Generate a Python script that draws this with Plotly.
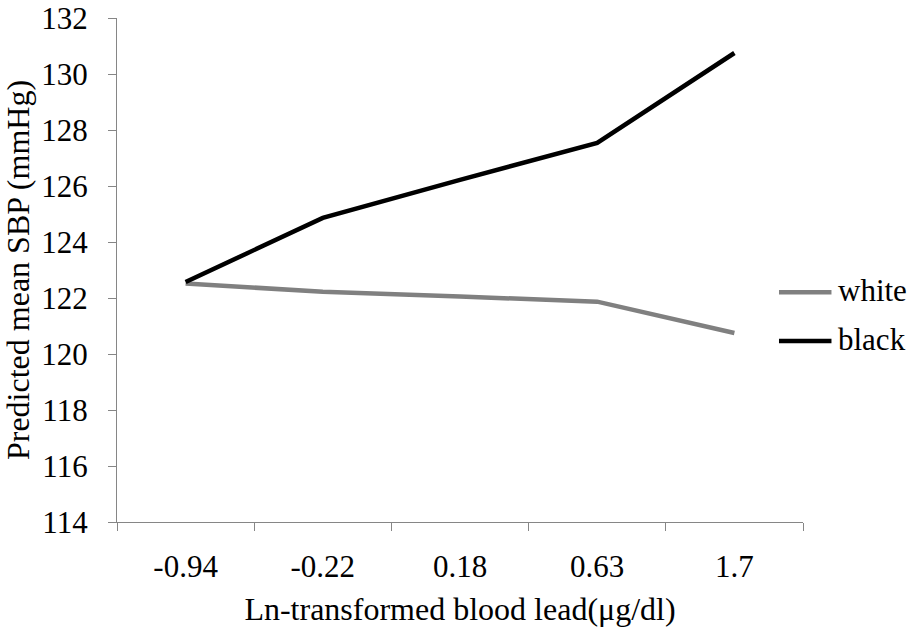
import plotly.graph_objects as go

# Ln-transformed blood lead categories and predicted mean SBP by race
lead_levels = ["-0.94", "-0.22", "0.18", "0.63", "1.7"]
sbp_white = [122.52, 122.22, 122.05, 121.87, 120.75]
sbp_black = [122.57, 124.86, 126.22, 127.54, 130.75]
series_names = ["white", "black"]
series_colors = ["#808080", "#000000"]

FONT = "'Liberation Serif', 'Times New Roman', serif"
AXIS_GREY = "#868686"


def serif(size=31):
    return dict(family=FONT, size=size, color="black")


fig = go.Figure()
for name, values, color in zip(series_names, [sbp_white, sbp_black], series_colors):
    fig.add_trace(go.Scatter(x=lead_levels, y=values, mode="lines", name=name,
                             showlegend=False,
                             line=dict(color=color, width=4.5)))

# legend keys: long sample line followed by the series name, right of the data
legend_y = [0.456, 0.359]
for name, color, ly in zip(series_names, series_colors, legend_y):
    fig.add_shape(type="line", xref="paper", yref="paper",
                  x0=0.9650, x1=1.0415, y0=ly, y1=ly,
                  line=dict(color=color, width=4.5))
    fig.add_annotation(text=name, xref="paper", yref="paper", x=1.048, y=ly,
                       xanchor="left", yanchor="middle", showarrow=False,
                       font=serif(31), yshift=2)

fig.update_layout(
    width=912, height=634,
    margin=dict(l=117, r=109, t=18, b=112, autoexpand=False),
    paper_bgcolor="white", plot_bgcolor="white",
    font=serif(),
    showlegend=False,
    xaxis=dict(
        type="category", range=[-0.5, len(lead_levels) - 0.5],
        tickson="boundaries", ticks="outside", ticklen=8,
        tickcolor=AXIS_GREY, tickwidth=1.3, showline=True, linecolor=AXIS_GREY,
        linewidth=1.3, showgrid=False, zeroline=False,
        tickfont=serif(31), ticklabelstandoff=17,
        title=dict(text="Ln-transformed blood lead(μg/dl)", font=serif(32), standoff=14),
    ),
    yaxis=dict(
        range=[114, 132], tickvals=list(range(114, 133, 2)), ticks="outside",
        ticklen=8, tickcolor=AXIS_GREY, tickwidth=1.3, showline=True,
        linecolor=AXIS_GREY, linewidth=1.3, showgrid=False, zeroline=False,
        tickfont=serif(31), ticklabelstandoff=14,
        title=dict(text="Predicted mean SBP (mmHg)", font=serif(32), standoff=2),
    ),
)

fig.write_html("out.html")
